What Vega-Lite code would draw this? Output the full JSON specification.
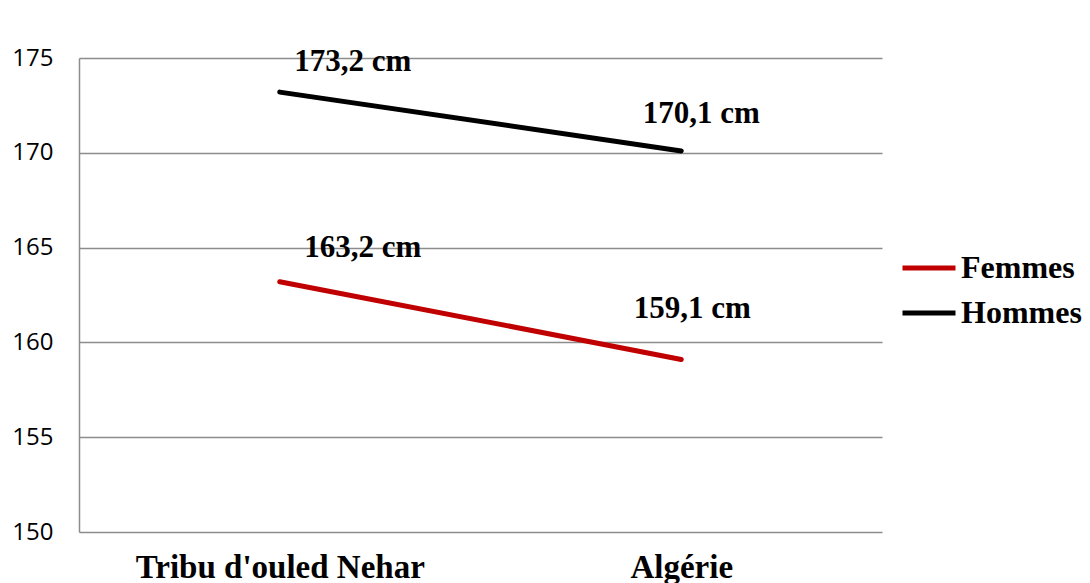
{
  "$schema": "https://vega.github.io/schema/vega-lite/v6.json",
  "autosize": {"type": "none"},
  "width": 803,
  "height": 474,
  "padding": {"left": 79, "top": 58, "right": 208, "bottom": 51},
  "background": "white",
  "config": {"view": {"stroke": null}},
  "data": {"values": [
    {"lieu": "Tribu d'ouled Nehar", "sexe": "Femmes", "taille": 163.2, "label": "163,2 cm"},
    {"lieu": "Algérie", "sexe": "Femmes", "taille": 159.1, "label": "159,1 cm"},
    {"lieu": "Tribu d'ouled Nehar", "sexe": "Hommes", "taille": 173.2, "label": "173,2 cm"},
    {"lieu": "Algérie", "sexe": "Hommes", "taille": 170.1, "label": "170,1 cm"}
  ]},
  "encoding": {
    "x": {"field": "lieu", "type": "nominal", "sort": ["Tribu d'ouled Nehar", "Algérie"],
      "scale": {"type": "point", "padding": 0.5},
      "axis": {"title": null, "domain": false, "ticks": false, "tickSize": 0, "grid": false, "labelAngle": 0,
        "labelFont": "Liberation Serif", "labelFontWeight": "bold", "labelFontSize": 33, "labelColor": "black",
        "labelPadding": 19, "labelBaseline": "top", "labelLimit": 1000}},
    "y": {"field": "taille", "type": "quantitative",
      "scale": {"domain": [150, 175], "nice": false, "zero": false},
      "axis": {"title": null, "values": [150, 155, 160, 165, 170, 175], "grid": true, "gridColor": "#8c8c8c", "gridWidth": 1.5,
        "domain": true, "domainColor": "#8c8c8c", "domainWidth": 1.5, "ticks": false, "tickSize": 0,
        "labelFont": "Open Sans", "labelFontSize": 24, "labelColor": "black", "labelPadding": 26, "labelAlign": "right"}}
  },
  "layer": [
    {
      "mark": {"type": "line", "strokeWidth": 5, "strokeCap": "round"},
      "encoding": {
        "color": {"field": "sexe", "type": "nominal",
          "scale": {"domain": ["Femmes", "Hommes"], "range": ["#C00000", "#000000"]},
          "legend": {"title": null, "orient": "none", "legendX": 821, "legendY": 181,
            "symbolType": "stroke", "symbolSize": 2809, "symbolStrokeWidth": 5,
            "labelFont": "Liberation Serif", "labelFontWeight": "bold", "labelFontSize": 32, "labelColor": "black",
            "labelOffset": 3, "rowPadding": -8}}
      }
    },
    {
      "transform": [{"filter": "datum.sexe == 'Hommes' && datum.lieu == \"Tribu d'ouled Nehar\""}],
      "mark": {"type": "text", "font": "Liberation Serif", "fontWeight": "bold", "fontSize": 31, "color": "black", "dx": 73, "dy": -30, "baseline": "middle"},
      "encoding": {"text": {"field": "label"}}
    },
    {
      "transform": [{"filter": "datum.sexe == 'Femmes' && datum.lieu == \"Tribu d'ouled Nehar\""}],
      "mark": {"type": "text", "font": "Liberation Serif", "fontWeight": "bold", "fontSize": 31, "color": "black", "dx": 83, "dy": -34, "baseline": "middle"},
      "encoding": {"text": {"field": "label"}}
    },
    {
      "transform": [{"filter": "datum.sexe == 'Hommes' && datum.lieu == 'Algérie'"}],
      "mark": {"type": "text", "font": "Liberation Serif", "fontWeight": "bold", "fontSize": 31, "color": "black", "dx": 20, "dy": -37, "baseline": "middle"},
      "encoding": {"text": {"field": "label"}}
    },
    {
      "transform": [{"filter": "datum.sexe == 'Femmes' && datum.lieu == 'Algérie'"}],
      "mark": {"type": "text", "font": "Liberation Serif", "fontWeight": "bold", "fontSize": 31, "color": "black", "dx": 11, "dy": -50, "baseline": "middle"},
      "encoding": {"text": {"field": "label"}}
    }
  ]
}
